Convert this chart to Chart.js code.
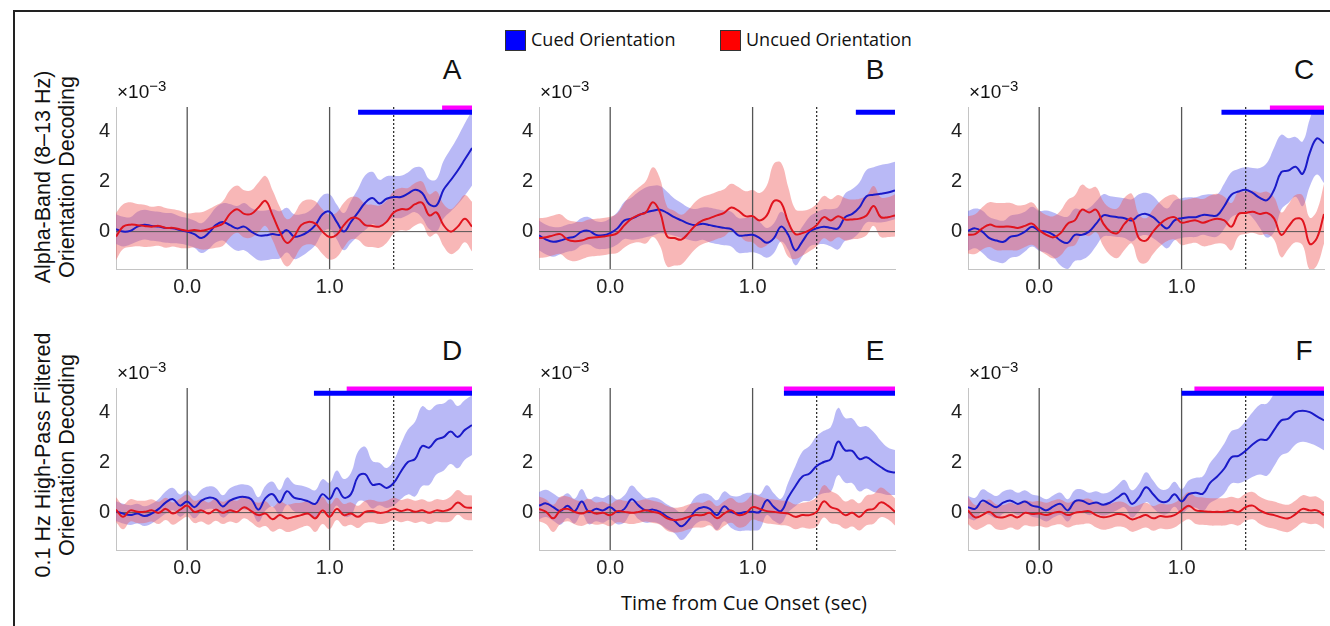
<!DOCTYPE html>
<html>
<head>
<meta charset="utf-8">
<script src="https://cdn.jsdelivr.net/npm/chart.js@4.4.1/dist/chart.umd.min.js"></script>
<style>
  body { margin: 0; width: 1330px; height: 626px; background: #fff; position: relative; overflow: hidden;
         font-family: "Liberation Sans", Arial, sans-serif; color: #111; }
  .frame { position: absolute; left: 13px; top: 10px; width: 1400px; height: 700px;
           border-top: 2px solid #222; border-left: 2px solid #222; }
  canvas { position: absolute; }
  .txt { position: absolute; white-space: nowrap; }
  .ctr { transform: translate(-50%, -50%); }
  .rot { transform: translate(-50%, -50%) rotate(-90deg); }
  .sw { position: absolute; width: 19px; height: 19px; border: 1px solid #333; }
  .legend { font-family: "Open Sans", sans-serif; font-size: 18px; }
  .ytitle { font-size: 21.5px; }
  .letter { font-size: 28px; }
  .expo { font-size: 19px; }
  .expo sup { font-size: 15px; vertical-align: 7px; }
</style>
</head>
<body>
<div class="frame"></div>

<div class="sw" style="left:505px;top:30px;background:#0000ff"></div>
<div class="txt legend" style="left:531px;top:27px">Cued Orientation</div>
<div class="sw" style="left:720px;top:30px;background:#ff0000"></div>
<div class="txt legend" style="left:746px;top:27px">Uncued Orientation</div>

<div class="txt ytitle rot" style="left:43px;top:177px">Alpha-Band (8–13 Hz)</div>
<div class="txt ytitle rot" style="left:67px;top:177px">Orientation Decoding</div>
<div class="txt ytitle rot" style="left:43px;top:455px">0.1 Hz High-Pass Filtered</div>
<div class="txt ytitle rot" style="left:67px;top:455px">Orientation Decoding</div>

<div class="txt legend ctr" style="left:744px;top:602px;font-size:20px">Time from Cue Onset (sec)</div>

<div id="panels"></div>

<script>
// time axis (sec from cue onset)
const times = [-0.5, -0.45, -0.4, -0.35, -0.3, -0.25, -0.2, -0.15, -0.1, -0.05,
  0, 0.05, 0.1, 0.15, 0.2, 0.25, 0.3, 0.35, 0.4, 0.45,
  0.5, 0.55, 0.6, 0.65, 0.7, 0.75, 0.8, 0.85, 0.9, 0.95,
  1.0, 1.05, 1.1, 1.15, 1.2, 1.25, 1.3, 1.35, 1.4, 1.45,
  1.5, 1.55, 1.6, 1.65, 1.7, 1.75, 1.8, 1.85, 1.9, 1.95, 2.0];

const panelLetters = ["A", "B", "C", "D", "E", "F"];
const xTicks = [0, 1];
const yTicks = [0, 2, 4];
const probeTime = 1.45;

// decoding values (x10^-3), mean and sem per panel
const cuedA = [0.1, 0.0, 0.03, 0.2, 0.28, 0.23, 0.2, 0.15, 0.13, 0.06,
  0, -0.1, -0.26, -0.06, 0.26, 0.39, 0.26, 0.13, 0.2, 0,
  -0.15, -0.15, -0.1, -0.13, 0.06, -0.2, -0.15, 0, 0.26, 0.7,
  0.8, 0.39, 0, 0.39, 0.77, 1.16, 1.35, 1.13, 1.32, 1.39,
  1.39, 1.52, 1.68, 1.55, 1.1, 1.05, 1.68, 2.06, 2.45, 2.9, 3.35];
const cuedSemA = [0.6, 0.6, 0.55, 0.6, 0.6, 0.6, 0.6, 0.6, 0.6, 0.55,
  0.55, 0.55, 0.6, 0.65, 0.7, 0.75, 0.85, 0.9, 0.95, 0.95,
  1.0, 1.0, 1.0, 0.95, 0.9, 0.9, 0.85, 0.8, 0.8, 0.75,
  0.7, 0.7, 0.75, 0.85, 0.95, 1.1, 1.05, 0.95, 0.9, 0.85,
  0.85, 0.85, 0.9, 1.0, 1.0, 1.05, 1.15, 1.25, 1.35, 1.45, 1.5];
const uncuedA = [-0.2, 0.2, 0.28, 0.26, 0.23, 0.2, 0.23, 0.15, 0.15, 0.09,
  0.03, 0.06, 0.03, 0.1, 0.2, 0.32, 0.71, 0.9, 0.71, 0.71,
  0.97, 1.23, 0.65, 0, -0.45, -0.2, 0.26, 0.39, 0.32, 0,
  -0.22, -0.13, 0.26, 0.54, 0.52, 0.26, 0.23, 0.2, 0.39, 0.77,
  0.9, 0.9, 1.1, 1.16, 0.65, 0.77, 0.26, 0, 0.2, 0.52, 0.2];
const uncuedSemA = [0.95, 0.9, 0.9, 0.85, 0.85, 0.8, 0.8, 0.8, 0.75, 0.75,
  0.7, 0.7, 0.75, 0.8, 0.85, 0.9, 0.95, 0.95, 0.95, 0.95,
  1.0, 1.0, 1.0, 1.0, 0.95, 0.9, 0.9, 0.9, 0.9, 0.9,
  0.9, 0.9, 0.9, 0.85, 0.85, 0.85, 0.85, 0.85, 0.85, 0.85,
  0.85, 0.85, 0.85, 0.85, 0.85, 0.85, 0.85, 0.9, 0.95, 0.95, 1.0];

const cuedB = [-0.15, -0.32, -0.41, -0.36, -0.26, -0.2, 0, 0.03, -0.13, -0.15,
  -0.06, 0.13, 0.45, 0.52, 0.65, 0.77, 0.84, 0.88, 0.75, 0.58,
  0.45, 0.32, 0.26, 0.32, 0.26, 0.2, 0.15, 0.1, -0.15, -0.15,
  -0.13, -0.26, -0.45, -0.26, 0.2, -0.13, -0.75, -0.39, 0, 0.13,
  0.2, 0.15, 0.13, 0.58, 0.71, 0.97, 1.42, 1.48, 1.52, 1.57, 1.65];
const cuedSemB = [0.6, 0.6, 0.6, 0.55, 0.55, 0.55, 0.55, 0.55, 0.55, 0.55,
  0.6, 0.65, 0.75, 0.85, 0.95, 1.0, 1.0, 0.95, 0.85, 0.75,
  0.7, 0.65, 0.65, 0.65, 0.7, 0.7, 0.7, 0.7, 0.7, 0.7,
  0.7, 0.65, 0.6, 0.6, 0.6, 0.6, 0.6, 0.6, 0.6, 0.65,
  0.7, 0.75, 0.85, 0.95, 1.0, 1.0, 1.05, 1.1, 1.15, 1.15, 1.15];
const uncuedB = [-0.26, -0.23, -0.15, -0.1, -0.32, -0.39, -0.36, -0.26, -0.23, -0.2,
  -0.15, -0.06, 0.26, 0.52, 0.67, 0.77, 1.18, 0.77, -0.2, -0.26,
  -0.32, -0.06, 0.26, 0.45, 0.54, 0.65, 0.75, 0.97, 0.84, 0.62,
  0.62, 0.45, 0.65, 1.23, 1.16, 0.39, -0.1, -0.06, 0.06, 0.26,
  0.58, 0.45, 0.62, 0.49, 0.49, 0.52, 0.65, 1.03, 0.58, 0.58, 0.65];
const uncuedSemB = [0.8, 0.8, 0.8, 0.8, 0.8, 0.8, 0.75, 0.75, 0.75, 0.75,
  0.75, 0.8, 0.9, 1.0, 1.1, 1.25, 1.4, 1.35, 1.2, 1.1,
  1.0, 0.95, 0.95, 0.95, 0.95, 0.95, 0.95, 0.95, 0.95, 1.0,
  1.05, 1.1, 1.2, 1.5, 1.6, 1.4, 1.0, 0.9, 0.85, 0.85,
  0.85, 0.85, 0.85, 0.85, 0.8, 0.8, 0.8, 0.8, 0.8, 0.8, 0.85];

const cuedC = [0.03, 0.13, 0, -0.26, -0.36, -0.41, -0.2, -0.15, 0, 0.2,
  0.03, 0, -0.13, -0.36, -0.45, -0.13, -0.13, 0, 0.32, 0.65,
  0.62, 0.58, 0.54, 0.45, 0.65, 0.71, 0.58, 0.32, 0.13, 0.45,
  0.54, 0.58, 0.58, 0.67, 0.65, 0.65, 1.03, 1.48, 1.61, 1.68,
  1.55, 1.35, 1.26, 1.68, 2.39, 2.45, 2.6, 2.32, 3.16, 3.74, 3.55];
const cuedSemC = [0.8, 0.8, 0.85, 0.85, 0.85, 0.85, 0.85, 0.85, 0.8, 0.8,
  0.8, 0.85, 0.9, 1.0, 1.05, 1.05, 1.0, 0.95, 0.9, 0.85,
  0.8, 0.8, 0.8, 0.85, 0.85, 0.85, 0.85, 0.8, 0.8, 0.8,
  0.8, 0.8, 0.8, 0.8, 0.85, 0.85, 0.9, 0.9, 0.9, 0.9,
  1.0, 1.2, 1.5, 1.7, 1.5, 1.3, 1.2, 1.3, 1.35, 1.45, 1.6];
const uncuedC = [-0.13, -0.1, 0.13, 0.28, 0.2, 0.2, 0.2, 0.15, 0.23, 0.32,
  0.06, -0.13, -0.23, -0.06, 0.32, 0.45, 0.88, 0.77, 0.88, 0.32,
  0, -0.06, 0.32, 0.52, -0.26, -0.36, 0, 0.32, 0.52, 0.58,
  0.36, 0.41, 0.45, 0.36, 0.45, 0.52, 0.45, 0.2, 0.71, 0.75,
  0.8, 0.71, 0.75, 0.52, -0.13, 0.2, 0.52, 0.45, -0.49, -0.26, 0.71];
const uncuedSemC = [0.75, 0.8, 0.85, 0.9, 0.95, 0.95, 0.95, 0.9, 0.85, 0.85,
  0.8, 0.8, 0.85, 0.9, 0.95, 1.0, 1.0, 0.95, 0.9, 0.9,
  0.95, 1.0, 1.05, 1.0, 0.95, 0.9, 0.9, 0.9, 0.9, 0.9,
  0.9, 0.9, 0.9, 0.95, 1.0, 1.0, 0.95, 0.95, 0.9, 0.85,
  0.85, 0.85, 0.85, 0.85, 0.9, 0.9, 0.95, 1.0, 1.05, 1.1, 1.2];

const cuedD = [0.06, -0.04, -0.1, -0.04, -0.14, -0.04, 0.15, 0.41, 0.54, 0.28,
  0.45, 0.22, 0.48, 0.6, 0.54, 0.25, 0.48, 0.6, 0.63, 0.54,
  0.12, 0.58, 0.74, 0.41, 0.86, 0.6, 0.54, 0.45, 0.35, 0.74,
  0.54, 0.99, 0.6, 0.74, 1.45, 1.54, 1.12, 1.15, 0.99, 1.19,
  1.64, 2.03, 2.15, 2.67, 2.61, 2.93, 3.03, 3.25, 3.03, 3.32, 3.51];
const cuedSemD = [0.4, 0.4, 0.4, 0.4, 0.4, 0.4, 0.4, 0.45, 0.45, 0.45,
  0.45, 0.45, 0.45, 0.45, 0.45, 0.45, 0.5, 0.5, 0.5, 0.5,
  0.5, 0.5, 0.5, 0.5, 0.55, 0.55, 0.55, 0.55, 0.55, 0.6,
  0.65, 0.7, 0.75, 0.85, 1.0, 1.1, 0.95, 0.85, 0.8, 0.9,
  1.1, 1.3, 1.5, 1.6, 1.5, 1.4, 1.35, 1.3, 1.25, 1.2, 1.2];
const uncuedD = [0.12, -0.17, 0.09, 0.03, 0.03, 0.09, -0.01, 0.15, -0.04, 0.12,
  0.28, 0.03, 0.09, -0.04, 0.12, -0.01, 0.09, 0.03, 0.22, 0.06,
  -0.1, -0.04, -0.27, -0.1, -0.23, -0.17, -0.1, -0.04, -0.23, 0.09,
  -0.17, 0.15, -0.1, -0.04, -0.17, 0.03, 0.06, -0.01, 0.03, 0.15,
  0.06, 0.12, 0.03, 0.09, -0.01, 0.09, 0.06, 0.15, 0.41, 0.22, 0.19];
const uncuedSemD = [0.5, 0.5, 0.45, 0.45, 0.45, 0.45, 0.45, 0.45, 0.45, 0.45,
  0.45, 0.45, 0.45, 0.45, 0.45, 0.45, 0.45, 0.45, 0.45, 0.45,
  0.5, 0.5, 0.5, 0.55, 0.55, 0.55, 0.5, 0.5, 0.55, 0.55,
  0.5, 0.45, 0.45, 0.45, 0.45, 0.45, 0.45, 0.45, 0.45, 0.45,
  0.45, 0.45, 0.45, 0.45, 0.45, 0.45, 0.45, 0.5, 0.5, 0.5, 0.5];

const cuedE = [0.28, 0.37, 0.22, 0.06, 0.28, 0.06, 0.45, 0.03, 0.15, 0.09,
  0.22, 0.03, 0.15, 0.54, 0.28, 0.09, 0.12, 0.03, -0.17, -0.32,
  -0.55, -0.3, 0.09, 0.22, 0.15, -0.1, 0.25, 0.03, -0.04, 0.03,
  0.03, 0.03, 0.5, 0.22, 0.06, 0.61, 1.06, 1.45, 1.57, 1.87,
  2.03, 2.15, 2.85, 2.5, 2.48, 2.15, 2.22, 2.03, 1.83, 1.66, 1.61];
const cuedSemE = [0.55, 0.55, 0.55, 0.55, 0.5, 0.5, 0.5, 0.5, 0.5, 0.5,
  0.5, 0.5, 0.55, 0.55, 0.55, 0.5, 0.5, 0.5, 0.5, 0.5,
  0.55, 0.55, 0.55, 0.55, 0.55, 0.6, 0.6, 0.65, 0.7, 0.75,
  0.75, 0.7, 0.6, 0.55, 0.5, 0.6, 0.8, 1.0, 1.1, 1.2,
  1.25, 1.3, 1.35, 1.3, 1.3, 1.3, 1.25, 1.2, 1.05, 0.95, 0.9];
const uncuedE = [0.15, 0.03, -0.23, 0.09, 0.15, 0.03, -0.04, 0.06, -0.04, -0.01,
  -0.1, 0.06, 0.03, -0.01, 0.03, 0.09, 0.03, -0.04, -0.23, -0.3,
  -0.27, -0.17, -0.1, -0.1, -0.01, -0.23, -0.04, 0.09, -0.1, -0.04,
  0.22, 0.15, 0.06, 0.03, -0.01, -0.04, -0.17, -0.1, -0.1, 0.03,
  0.45, 0.22, 0.12, -0.1, -0.01, -0.17, 0.09, 0.15, 0.41, 0.28, 0.03];
const uncuedSemE = [0.5, 0.5, 0.55, 0.55, 0.5, 0.5, 0.5, 0.5, 0.45, 0.45,
  0.45, 0.45, 0.45, 0.45, 0.45, 0.45, 0.45, 0.45, 0.5, 0.5,
  0.5, 0.5, 0.5, 0.5, 0.5, 0.5, 0.5, 0.5, 0.5, 0.5,
  0.5, 0.5, 0.5, 0.5, 0.5, 0.5, 0.5, 0.5, 0.55, 0.6,
  0.65, 0.65, 0.6, 0.55, 0.55, 0.55, 0.6, 0.6, 0.6, 0.55, 0.55];

const cuedF = [0.22, 0.15, 0.48, 0.35, 0.22, 0.41, 0.48, 0.35, 0.45, 0.28,
  0.22, 0.09, 0.25, 0.35, 0.09, 0.45, 0.48, 0.35, 0.41, 0.32,
  0.41, 0.6, 0.76, 0.35, 0.6, 1.02, 0.74, 0.45, 0.45, 0.74,
  0.45, 0.74, 0.8, 0.76, 1.19, 1.45, 1.77, 2.22, 2.28, 2.48,
  2.74, 2.93, 2.93, 3.32, 3.7, 3.77, 4.03, 4.09, 4.03, 3.86, 3.7];
const cuedSemF = [0.45, 0.45, 0.45, 0.45, 0.45, 0.45, 0.45, 0.45, 0.45, 0.45,
  0.45, 0.45, 0.45, 0.45, 0.45, 0.45, 0.45, 0.45, 0.45, 0.45,
  0.45, 0.5, 0.55, 0.55, 0.55, 0.6, 0.55, 0.5, 0.5, 0.5,
  0.5, 0.55, 0.6, 0.7, 0.8, 0.9, 1.0, 1.05, 1.1, 1.2,
  1.3, 1.4, 1.45, 1.45, 1.4, 1.35, 1.3, 1.25, 1.25, 1.2, 1.2];
const uncuedF = [0.09, -0.19, -0.1, 0.03, -0.17, -0.19, -0.1, -0.19, -0.01, -0.06,
  -0.04, -0.1, -0.01, 0.03, -0.1, -0.01, 0.03, 0.06, -0.1, -0.19,
  -0.14, -0.06, -0.1, -0.27, -0.19, -0.1, -0.23, -0.14, -0.17, -0.1,
  0.09, 0.28, 0.09, 0.06, 0.03, 0.03, 0.03, 0.09, 0.03, 0.22,
  0.28, 0.09, -0.04, -0.1, -0.19, -0.23, -0.06, 0.15, 0.09, 0.09, -0.1];
const uncuedSemF = [0.55, 0.5, 0.5, 0.5, 0.5, 0.5, 0.5, 0.5, 0.5, 0.5,
  0.5, 0.5, 0.5, 0.5, 0.5, 0.5, 0.5, 0.5, 0.5, 0.5,
  0.5, 0.5, 0.5, 0.5, 0.5, 0.5, 0.5, 0.5, 0.5, 0.5,
  0.5, 0.55, 0.55, 0.55, 0.55, 0.55, 0.55, 0.55, 0.55, 0.55,
  0.55, 0.55, 0.55, 0.55, 0.55, 0.55, 0.55, 0.55, 0.55, 0.55, 0.55];

// significant time windows [start, end] (sec): cued only, and cued vs uncued
const sigCued = [[1.2, 2.0], [1.725, 2.0], [1.28, 2.0], [0.89, 2.0], [1.22, 2.0], [1.0, 2.0]];
const sigDiff = [[1.79, 2.0], null, [1.62, 2.0], [1.12, 2.0], [1.22, 2.0], [1.09, 2.0]];

const cuedMeans = [cuedA, cuedB, cuedC, cuedD, cuedE, cuedF];
const cuedSems = [cuedSemA, cuedSemB, cuedSemC, cuedSemD, cuedSemE, cuedSemF];
const uncuedMeans = [uncuedA, uncuedB, uncuedC, uncuedD, uncuedE, uncuedF];
const uncuedSems = [uncuedSemA, uncuedSemB, uncuedSemC, uncuedSemD, uncuedSemE, uncuedSemF];

const colLeft = [116, 539, 968];
const rowTop = [101, 382];
const plotW = 356, plotH = 168;
const padL = 45, padT = 12, padR = 8, padB = 40;
const Y_MIN = -1.5, Y_MAX = 5;

const BLUE_LINE = "#1a1ac8";
const RED_LINE = "#e0141e";
const BLUE_BAND = "rgba(100,100,235,0.45)";
const RED_BAND = "rgba(240,95,95,0.45)";

const pts = (ys) => times.map((t, i) => ({ x: t, y: ys[i] }));
const band = (m, s, sign) => times.map((t, i) => ({ x: t, y: m[i] + sign * s[i] }));
const seg = (x0, y0, x1, y1) => [{ x: x0, y: y0 }, { x: x1, y: y1 }];

function refLine(data, color, width, dash, order) {
  return { data, borderColor: color, borderWidth: width, borderDash: dash || [],
           pointRadius: 0, fill: false, tension: 0, order };
}

function buildDatasets(k) {
  const ds = [
    { data: band(cuedMeans[k], cuedSems[k], 1), borderWidth: 0, pointRadius: 0, fill: false, tension: 0.4, order: 6 },
    { data: band(cuedMeans[k], cuedSems[k], -1), borderWidth: 0, pointRadius: 0, fill: "-1",
      backgroundColor: BLUE_BAND, tension: 0.4, order: 6 },
    { data: band(uncuedMeans[k], uncuedSems[k], 1), borderWidth: 0, pointRadius: 0, fill: false, tension: 0.4, order: 5 },
    { data: band(uncuedMeans[k], uncuedSems[k], -1), borderWidth: 0, pointRadius: 0, fill: "-1",
      backgroundColor: RED_BAND, tension: 0.4, order: 5 },
    refLine(seg(-0.5, 0, 2, 0), "#555", 1, null, 4),
    refLine(seg(0, Y_MIN, 0, Y_MAX), "#555", 1.3, null, 4),
    refLine(seg(1, Y_MIN, 1, Y_MAX), "#555", 1.3, null, 4),
    refLine(seg(probeTime, Y_MIN, probeTime, Y_MAX), "#222", 1.2, [2, 2], 4),
    { data: pts(cuedMeans[k]), borderColor: BLUE_LINE, borderWidth: 2, pointRadius: 0, fill: false, tension: 0.4, order: 3 },
    { data: pts(uncuedMeans[k]), borderColor: RED_LINE, borderWidth: 2, pointRadius: 0, fill: false, tension: 0.4, order: 2 }
  ];
  if (sigDiff[k]) {
    ds.push({ ...refLine(seg(sigDiff[k][0], 4.96, sigDiff[k][1], 4.96), "#ff00ff", 5, null, 1), clip: false, borderCapStyle: "butt" });
  }
  ds.push({ ...refLine(seg(sigCued[k][0], 4.79, sigCued[k][1], 4.79), "#0000ff", 5, null, 0), clip: false, borderCapStyle: "butt" });
  return ds;
}

const tickFont = { family: "'Liberation Sans', Arial, sans-serif", size: 20 };

function makePanel(k) {
  const col = k % 3, row = Math.floor(k / 3);
  const canvas = document.createElement("canvas");
  const w = plotW + padL + padR, h = plotH + padT + padB;
  canvas.width = w; canvas.height = h;
  canvas.style.left = (colLeft[col] - padL) + "px";
  canvas.style.top = (rowTop[row] - padT) + "px";
  canvas.style.width = w + "px"; canvas.style.height = h + "px";
  document.getElementById("panels").appendChild(canvas);

  new Chart(canvas, {
    type: "line",
    data: { datasets: buildDatasets(k) },
    options: {
      responsive: false,
      animation: false,
      devicePixelRatio: 1,
      layout: { padding: { top: padT, right: padR, left: 0, bottom: 0 } },
      plugins: { legend: { display: false }, tooltip: { enabled: false } },
      scales: {
        x: {
          type: "linear", min: -0.5, max: 2,
          grid: { display: false, drawTicks: false },
          border: { display: true, color: "#c4c4c4", width: 1 },
          afterBuildTicks: (axis) => { axis.ticks = xTicks.map((v) => ({ value: v })); },
          afterFit: (axis) => { axis.height = padB; },
          ticks: { font: tickFont, color: "#222", padding: 6, maxRotation: 0,
                   callback: (v) => Number(v).toFixed(1) }
        },
        y: {
          type: "linear", min: Y_MIN, max: Y_MAX,
          grid: { display: false, drawTicks: false },
          border: { display: true, color: "#c4c4c4", width: 1 },
          afterBuildTicks: (axis) => { axis.ticks = yTicks.map((v) => ({ value: v })); },
          afterFit: (axis) => { axis.width = padL; },
          ticks: { font: tickFont, color: "#222", padding: 6, callback: (v) => String(v) }
        }
      }
    }
  });

  const letter = document.createElement("div");
  letter.className = "txt letter ctr";
  letter.textContent = panelLetters[k];
  letter.style.left = (colLeft[col] + plotW - 20) + "px";
  letter.style.top = (rowTop[row] - 31) + "px";
  document.body.appendChild(letter);

  const expo = document.createElement("div");
  expo.className = "txt expo";
  expo.innerHTML = "×10<sup>−3</sup>";
  expo.style.left = (colLeft[col] + 1) + "px";
  expo.style.top = (rowTop[row] - 24) + "px";
  document.body.appendChild(expo);
}

for (let k = 0; k < 6; k++) makePanel(k);
</script>
</body>
</html>
